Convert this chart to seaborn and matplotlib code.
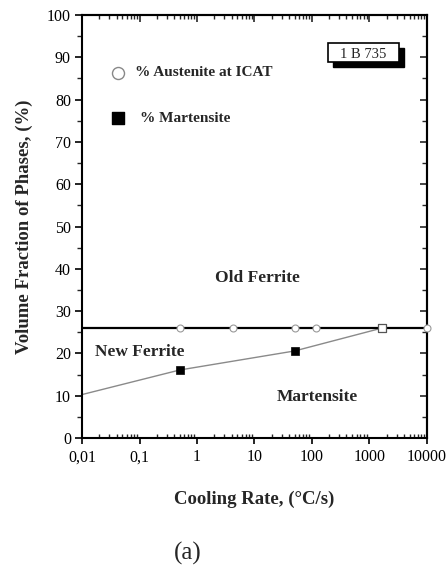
import matplotlib
matplotlib.use("Agg")
import matplotlib.pyplot as plt
import seaborn as sns
import numpy as np
from matplotlib.ticker import FixedLocator, LogLocator, NullFormatter, MultipleLocator
from matplotlib.patches import Rectangle

# Data
aust_rate = [0.5, 4.2, 50, 117, 1650, 10000]
aust_frac = [26, 26, 26, 26, 26, 26]
aust_line_rate = [0.01, 10000]
aust_line_frac = [26, 26]
mart_rate = [0.01, 0.5, 50, 1650]
mart_frac = [10.3, 16.1, 20.6, 26]
mart_marker_rate = [0.5, 50]
mart_marker_frac = [16.1, 20.6]
mart_open_rate = [1650]
mart_open_frac = [26]
xticks = [0.01, 0.1, 1, 10, 100, 1000, 10000]
xticklabels = ["0,01", "0,1", "1", "10", "100", "1000", "10000"]
yticks = [0, 10, 20, 30, 40, 50, 60, 70, 80, 90, 100]

sns.set_theme(style="ticks")
plt.rcParams['font.family'] = ['Liberation Serif', 'DejaVu Serif']

fig = plt.figure(figsize=(4.46, 5.72), dpi=100)
ax = fig.add_axes([0.184, 0.234, 0.773, 0.74])

# martensite curve
sns.lineplot(x=mart_rate, y=mart_frac, ax=ax, color="#8a8a8a", linewidth=1.0,
             estimator=None, sort=False, zorder=2)
# austenite horizontal line
sns.lineplot(x=aust_line_rate, y=aust_line_frac, ax=ax, color="black", linewidth=1.6,
             estimator=None, sort=False, zorder=3)
sns.scatterplot(x=aust_rate, y=aust_frac, ax=ax, marker="o", s=25, facecolor="white",
                edgecolor="#999999", linewidth=0.8, zorder=5, clip_on=False)
sns.scatterplot(x=mart_marker_rate, y=mart_marker_frac, ax=ax, marker="s", s=36,
                color="black", edgecolor="black", zorder=6)
sns.scatterplot(x=mart_open_rate, y=mart_open_frac, ax=ax, marker="s", s=38,
                facecolor="white", edgecolor="#555555", linewidth=0.9, zorder=6)

ax.set_xscale("log")
ax.set_xlim(0.01, 10000)
ax.set_ylim(0, 100)
ax.xaxis.set_major_locator(FixedLocator(xticks))
ax.set_xticklabels(xticklabels)
ax.xaxis.set_minor_locator(LogLocator(base=10, subs=np.arange(2, 10)))
ax.xaxis.set_minor_formatter(NullFormatter())
ax.yaxis.set_major_locator(FixedLocator(yticks))
ax.yaxis.set_minor_locator(MultipleLocator(5))

for s in ax.spines.values():
    s.set_linewidth(1.5)
    s.set_color("black")
    s.set_visible(True)

# left: out; bottom: major out, minor in
ax.tick_params(axis="y", which="major", direction="out", length=5, width=1.2,
               labelsize=11.5, colors="black", pad=3, right=False)
ax.tick_params(axis="y", which="minor", direction="out", length=3.5, width=1.0, right=False)
ax.tick_params(axis="x", which="major", direction="out", length=4, width=1.2,
               labelsize=11.5, colors="black", pad=4, top=False)
ax.tick_params(axis="x", which="minor", direction="in", length=3, width=1.0, top=False)

# top and right: inward ticks without labels
sec_top = ax.secondary_xaxis("top")
sec_top.xaxis.set_major_locator(FixedLocator(xticks))
sec_top.xaxis.set_minor_locator(LogLocator(base=10, subs=np.arange(2, 10)))
sec_top.xaxis.set_major_formatter(NullFormatter())
sec_top.xaxis.set_minor_formatter(NullFormatter())
sec_top.tick_params(which="major", direction="in", length=5, width=1.2)
sec_top.tick_params(which="minor", direction="in", length=3, width=1.0)
sec_top.spines["top"].set_linewidth(1.5)

sec_right = ax.secondary_yaxis("right")
sec_right.yaxis.set_major_locator(FixedLocator(yticks))
sec_right.yaxis.set_minor_locator(MultipleLocator(5))
sec_right.yaxis.set_major_formatter(NullFormatter())
sec_right.yaxis.set_minor_formatter(NullFormatter())
sec_right.tick_params(which="major", direction="in", length=5, width=1.2)
sec_right.tick_params(which="minor", direction="in", length=3.5, width=1.0)
sec_right.spines["right"].set_linewidth(1.5)

ax.set_xlabel("Cooling Rate, (°C/s)", fontsize=13.5, fontweight="bold", labelpad=18)
ax.set_ylabel("Volume Fraction of Phases, (%)", fontsize=13.5, fontweight="bold", labelpad=10)

# Legend-like annotations
ax.scatter([0.042], [86.3], marker="o", s=75, facecolor="white", edgecolor="#888888",
           linewidth=1.0, zorder=6)
ax.text(0.083, 86.3, "% Austenite at ICAT", fontsize=11, fontweight="bold", va="center")
ax.scatter([0.042], [75.6], marker="s", s=80, color="black", zorder=6)
ax.text(0.102, 75.6, "% Martensite", fontsize=11, fontweight="bold", va="center")

# Box label
box_ax = ax.transAxes
bx0 = (328 - 82) / 345.0
bw = (399 - 328) / 345.0
by0 = (438 - 62) / 423.0
bh = (62 - 43) / 423.0
ax.add_patch(Rectangle((bx0 + 0.0145, by0 - 0.012), bw, bh, transform=box_ax,
                       facecolor="black", edgecolor="black", zorder=7))
ax.add_patch(Rectangle((bx0, by0), bw, bh, transform=box_ax, facecolor="white",
                       edgecolor="black", linewidth=1.2, zorder=8))
ax.text(bx0 + bw / 2, by0 + bh / 2 - 0.002, "1 B 735", transform=box_ax, ha="center",
        va="center_baseline", fontsize=10.5, zorder=9)

ax.text(11.5, 37.8, "Old Ferrite", fontsize=12.5, fontweight="bold", ha="center", va="center")
ax.text(0.0168, 20.3, "New Ferrite", fontsize=12.5, fontweight="bold", ha="left", va="center")
ax.text(123, 9.7, "Martensite", fontsize=12.5, fontweight="bold", ha="center", va="center")

fig.text(188 / 446, 1 - 553 / 572, "(a)", fontsize=18, ha="center", va="center")

fig.savefig("out.png", dpi=100)
